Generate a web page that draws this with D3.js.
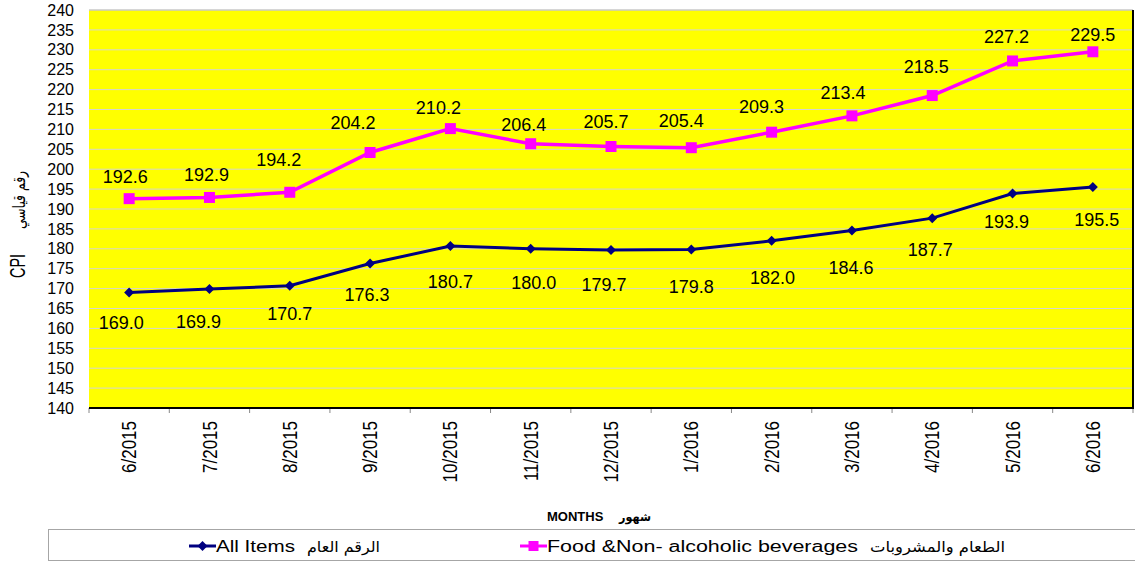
<!DOCTYPE html>
<html>
<head>
<meta charset="utf-8">
<script src="https://cdn.jsdelivr.net/npm/d3@7"></script>
<style>
  html, body { margin: 0; padding: 0; background: #fff; }
  svg { display: block; font-family: "Liberation Sans", Arial, "DejaVu Sans", sans-serif; }
</style>
</head>
<body>
<svg id="chart" width="1135" height="562"></svg>
<script>
// ---- data ----
const months = ["6/2015","7/2015","8/2015","9/2015","10/2015","11/2015","12/2015","1/2016","2/2016","3/2016","4/2016","5/2016","6/2016"];
const allItems = [169.0,169.9,170.7,176.3,180.7,180.0,179.7,179.8,182.0,184.6,187.7,193.9,195.5];
const food = [192.6,192.9,194.2,204.2,210.2,206.4,205.7,205.4,209.3,213.4,218.5,227.2,229.5];
const yTicks = [140,145,150,155,160,165,170,175,180,185,190,195,200,205,210,215,220,225,230,235,240];
const seriesNames = ["All Items", "Food &Non- alcoholic beverages"];
const seriesNamesAr = ["الرقم العام", "الطعام والمشروبات"];
const xTitle = ["MONTHS", "شهور"];
const yTitle = ["CPI", "رقم قياسي"];

// ---- layout (label nudges, px) ----
const foodLabelNudge = [[-4,-22],[-3,-23],[-11,-33],[-17,-30],[-12,-21],[-7,-19],[-5,-25],[-10,-27],[-10,-26],[-9,-23],[-6,-29],[-6,-24],[0,-17]];
const allLabelNudge = [[-8,30],[-11,33],[0,28],[-3,31],[0,36],[3,34],[-7,35],[0,37],[1,37],[-1,37],[-2,31],[-6,28],[4,32]];

const svg = d3.select("#chart");
const L = 89, R = 1133, T = 10, B = 408;
const NAVY = "#000080", PINK = "#FF00FF";

const x = d3.scaleBand().domain(months).range([L, R]).padding(0);
const y = d3.scaleLinear().domain([140, 240]).range([B, T]);
const cx = d => x(d) + x.bandwidth() / 2;

// plot background
svg.append("rect").attr("x", L).attr("y", T).attr("width", R - L).attr("height", B - T).attr("fill", "#FFFF00");

// gridlines
svg.append("g").selectAll("line").data(yTicks.slice(1, -1)).join("line")
  .attr("x1", L).attr("x2", R).attr("y1", d => y(d)).attr("y2", d => y(d))
  .attr("stroke", "#d6d6cf").attr("stroke-width", 1);

// borders
svg.append("line").attr("x1", L).attr("x2", R).attr("y1", T).attr("y2", T).attr("stroke", "#c8c8c8").attr("stroke-width", 1.5);
svg.append("line").attr("x1", R).attr("x2", R).attr("y1", T).attr("y2", B).attr("stroke", "#000").attr("stroke-width", 2);

// y axis
const yAxis = svg.append("g").attr("transform", `translate(${L},0)`)
  .call(d3.axisLeft(y).tickValues(yTicks).tickSize(0).tickPadding(15).tickFormat(d3.format("d")));
yAxis.select(".domain").remove();
yAxis.selectAll("text").attr("font-size", 16).attr("fill", "#000")
  .attr("font-family", "'Liberation Sans', Arial, sans-serif");

// x axis: ticks at category boundaries
const xAxis = svg.append("g");
const bounds = months.map(m => x(m)).concat([R]);
xAxis.selectAll("line.tk").data(bounds).join("line").attr("class", "tk")
  .attr("x1", d => d).attr("x2", d => d).attr("y1", B).attr("y2", B + 5)
  .attr("stroke", "#888").attr("stroke-width", 1);
svg.append("line").attr("x1", L).attr("x2", R + 1).attr("y1", B).attr("y2", B).attr("stroke", "#000").attr("stroke-width", 2);
xAxis.selectAll("text").data(months).join("text")
  .attr("transform", d => `translate(${cx(d)},421) rotate(-90) scale(1,1.15)`)
  .attr("text-anchor", "end").attr("dy", "0.36em")
  .attr("font-size", 17).attr("fill", "#000").text(d => d);

// lines
const line = d3.line().x((d, i) => cx(months[i])).y(d => y(d));
svg.append("path").datum(allItems).attr("d", line).attr("fill", "none").attr("stroke", NAVY).attr("stroke-width", 3);
svg.append("path").datum(food).attr("d", line).attr("fill", "none").attr("stroke", PINK).attr("stroke-width", 3.5);

// markers
const diamond = d3.symbol().type(d3.symbolSquare).size(50);
const square = d3.symbol().type(d3.symbolSquare).size(121);
svg.append("g").selectAll("path").data(allItems).join("path")
  .attr("d", diamond).attr("fill", NAVY)
  .attr("transform", (d, i) => `translate(${cx(months[i])},${y(d)}) rotate(45)`);
svg.append("g").selectAll("path").data(food).join("path")
  .attr("d", square).attr("fill", PINK)
  .attr("transform", (d, i) => `translate(${cx(months[i])},${y(d)})`);

// data labels
const fmt = d3.format(".1f");
svg.append("g").selectAll("text").data(food).join("text")
  .attr("x", (d, i) => cx(months[i]) + foodLabelNudge[i][0])
  .attr("y", (d, i) => y(d) + foodLabelNudge[i][1])
  .attr("dy", "0.36em").attr("text-anchor", "middle").attr("font-size", 18).attr("fill", "#000")
  .text(d => fmt(d));
svg.append("g").selectAll("text").data(allItems).join("text")
  .attr("x", (d, i) => cx(months[i]) + allLabelNudge[i][0])
  .attr("y", (d, i) => y(d) + allLabelNudge[i][1])
  .attr("dy", "0.36em").attr("text-anchor", "middle").attr("font-size", 18).attr("fill", "#000")
  .text(d => fmt(d));

// y title
const yt = svg.append("g").attr("transform", "translate(25,278) rotate(-90) scale(1,1.4)");
yt.append("text").attr("x", 0).attr("y", 0).attr("font-size", 16).attr("fill", "#000")
  .attr("textLength", 24).attr("lengthAdjust", "spacingAndGlyphs").text(yTitle[0]);
yt.append("text").attr("x", 78).attr("y", 0).attr("text-anchor", "middle").attr("font-size", 12)
  .attr("font-family", "'DejaVu Sans', sans-serif").attr("textLength", 58).attr("lengthAdjust", "spacingAndGlyphs")
  .attr("fill", "#000").text(yTitle[1]);

// x title
svg.append("text").attr("x", 547).attr("y", 521).attr("font-size", 13).attr("font-weight", "bold")
  .attr("fill", "#000").text(xTitle[0]);
svg.append("text").attr("x", 635).attr("y", 521).attr("text-anchor", "middle").attr("font-size", 12).attr("font-weight", "bold")
  .attr("font-family", "'DejaVu Sans', sans-serif").attr("textLength", 32).attr("lengthAdjust", "spacingAndGlyphs")
  .attr("fill", "#000").text(xTitle[1]);

// legend
svg.append("rect").attr("x", 48.5).attr("y", 529.5).attr("width", 1100).attr("height", 31)
  .attr("fill", "#fff").attr("stroke", "#a6a6a6").attr("stroke-width", 1);
const legY = 546;
const legendItems = [
  {color: NAVY, sym: diamond, rot: 45, lx: 189, tx: 216, tl: 79, ax: 343.5, al: 73},
  {color: PINK, sym: d3.symbol().type(d3.symbolSquare).size(100), rot: 0, lx: 520, tx: 547, tl: 311, ax: 937.5, al: 135}
];
legendItems.forEach((it, i) => {
  const g = svg.append("g");
  g.append("line").attr("x1", it.lx).attr("x2", it.lx + 27).attr("y1", legY).attr("y2", legY)
    .attr("stroke", it.color).attr("stroke-width", 3);
  g.append("path").attr("d", it.sym).attr("fill", it.color)
    .attr("transform", `translate(${it.lx + 13.5},${legY}) rotate(${it.rot})`);
  g.append("text").attr("x", it.tx).attr("y", legY + 6).attr("font-size", 16).attr("fill", "#000")
    .attr("textLength", it.tl).attr("lengthAdjust", "spacingAndGlyphs").text(seriesNames[i]);
  g.append("text").attr("x", it.ax).attr("y", legY + 6).attr("text-anchor", "middle").attr("font-size", 15)
    .attr("font-family", "'DejaVu Sans', sans-serif").attr("textLength", it.al).attr("lengthAdjust", "spacingAndGlyphs")
    .attr("fill", "#000").text(seriesNamesAr[i]);
});
</script>
</body>
</html>
